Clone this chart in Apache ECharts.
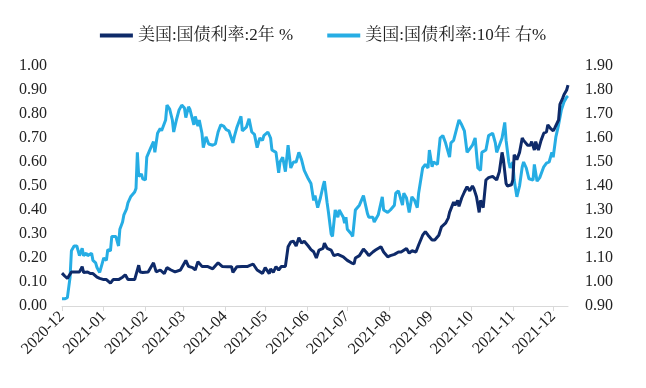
<!DOCTYPE html>
<html>
<head>
<meta charset="utf-8">
<script src="https://cdn.jsdelivr.net/npm/echarts@6/dist/echarts.min.js"></script>
<style>html,body{margin:0;padding:0;background:#fff;}#c{width:646px;height:388px;}</style>
</head>
<body>
<div id="c"></div>
<script>
const seriesNames = ['美国:国债利率:2年 %', '美国:国债利率:10年 右%'];
const xTickLabels = ['2020-12','2021-01','2021-02','2021-03','2021-04','2021-05','2021-06','2021-07','2021-08','2021-09','2021-10','2021-11','2021-12'];
const leftTicks = [0,0.1,0.2,0.3,0.4,0.5,0.6,0.7,0.8,0.9,1.0];
const rightTicks = [0.9,1.0,1.1,1.2,1.3,1.4,1.5,1.6,1.7,1.8,1.9];

const dates2y = ['2020-12-01','2020-12-03','2020-12-05','2020-12-08','2020-12-10','2020-12-12','2020-12-14','2020-12-16','2020-12-17','2020-12-20','2020-12-22','2020-12-24','2020-12-27','2020-12-29','2021-01-01','2021-01-03','2021-01-06','2021-01-08','2021-01-12','2021-01-15','2021-01-17','2021-01-19','2021-01-22','2021-01-24','2021-01-27','2021-01-28','2021-01-30','2021-02-03','2021-02-07','2021-02-09','2021-02-12','2021-02-15','2021-02-17','2021-02-20','2021-02-23','2021-02-27','2021-03-03','2021-03-05','2021-03-08','2021-03-10','2021-03-12','2021-03-15','2021-03-19','2021-03-23','2021-03-27','2021-03-30','2021-04-03','2021-04-06','2021-04-07','2021-04-10','2021-04-14','2021-04-18','2021-04-22','2021-04-25','2021-04-29','2021-05-01','2021-05-04','2021-05-05','2021-05-07','2021-05-09','2021-05-11','2021-05-13','2021-05-16','2021-05-18','2021-05-20','2021-05-22','2021-05-24','2021-05-26','2021-05-28','2021-05-30','2021-06-02','2021-06-04','2021-06-06','2021-06-08','2021-06-10','2021-06-13','2021-06-14','2021-06-16','2021-06-19','2021-06-21','2021-06-24','2021-06-26','2021-06-28','2021-07-01','2021-07-04','2021-07-06','2021-07-07','2021-07-10','2021-07-13','2021-07-15','2021-07-17','2021-07-20','2021-07-22','2021-07-26','2021-07-28','2021-07-31','2021-08-02','2021-08-05','2021-08-08','2021-08-10','2021-08-14','2021-08-16','2021-08-18','2021-08-21','2021-08-23','2021-08-26','2021-08-28','2021-08-30','2021-09-02','2021-09-04','2021-09-07','2021-09-09','2021-09-12','2021-09-14','2021-09-15','2021-09-18','2021-09-19','2021-09-21','2021-09-22','2021-09-24','2021-09-26','2021-09-28','2021-09-30','2021-10-02','2021-10-03','2021-10-05','2021-10-07','2021-10-08','2021-10-10','2021-10-12','2021-10-14','2021-10-17','2021-10-20','2021-10-22','2021-10-24','2021-10-25','2021-10-27','2021-10-28','2021-10-31','2021-11-01','2021-11-02','2021-11-04','2021-11-06','2021-11-08','2021-11-09','2021-11-12','2021-11-14','2021-11-15','2021-11-17','2021-11-18','2021-11-20','2021-11-22','2021-11-24','2021-11-26','2021-11-27','2021-11-29','2021-12-01','2021-12-02','2021-12-05','2021-12-06','2021-12-08','2021-12-09','2021-12-11','2021-12-12'];
const values2y = [0.137,0.125,0.115,0.142,0.142,0.142,0.142,0.164,0.14,0.142,0.135,0.135,0.12,0.115,0.11,0.11,0.095,0.11,0.11,0.12,0.13,0.11,0.11,0.11,0.17,0.142,0.14,0.142,0.18,0.142,0.15,0.135,0.16,0.15,0.142,0.15,0.19,0.165,0.16,0.15,0.185,0.165,0.165,0.155,0.18,0.165,0.164,0.164,0.14,0.164,0.165,0.165,0.175,0.15,0.136,0.16,0.135,0.155,0.14,0.164,0.15,0.165,0.165,0.247,0.267,0.27,0.25,0.285,0.262,0.27,0.25,0.235,0.226,0.20,0.233,0.24,0.262,0.24,0.233,0.21,0.215,0.21,0.205,0.19,0.18,0.175,0.20,0.21,0.237,0.225,0.21,0.225,0.233,0.247,0.225,0.205,0.21,0.215,0.225,0.225,0.24,0.22,0.23,0.225,0.254,0.295,0.31,0.295,0.275,0.275,0.295,0.33,0.345,0.366,0.39,0.433,0.42,0.44,0.415,0.45,0.475,0.497,0.48,0.50,0.49,0.455,0.39,0.44,0.41,0.525,0.535,0.54,0.525,0.56,0.64,0.61,0.51,0.50,0.505,0.525,0.63,0.61,0.64,0.70,0.69,0.67,0.67,0.685,0.65,0.685,0.65,0.69,0.72,0.725,0.755,0.74,0.73,0.74,0.775,0.84,0.865,0.88,0.90,0.92];

const dates10y = ['2020-12-01','2020-12-03','2020-12-05','2020-12-07','2020-12-08','2020-12-10','2020-12-12','2020-12-13','2020-12-14','2020-12-16','2020-12-17','2020-12-19','2020-12-20','2020-12-23','2020-12-24','2020-12-26','2020-12-27','2020-12-29','2020-12-31','2021-01-01','2021-01-03','2021-01-04','2021-01-06','2021-01-07','2021-01-10','2021-01-12','2021-01-13','2021-01-15','2021-01-16','2021-01-18','2021-01-19','2021-01-21','2021-01-24','2021-01-25','2021-01-26','2021-01-27','2021-01-29','2021-01-30','2021-02-01','2021-02-02','2021-02-05','2021-02-07','2021-02-08','2021-02-10','2021-02-12','2021-02-13','2021-02-16','2021-02-17','2021-02-19','2021-02-21','2021-02-22','2021-02-24','2021-02-26','2021-02-28','2021-03-02','2021-03-03','2021-03-05','2021-03-06','2021-03-09','2021-03-10','2021-03-12','2021-03-13','2021-03-15','2021-03-16','2021-03-18','2021-03-20','2021-03-23','2021-03-25','2021-03-27','2021-03-29','2021-03-31','2021-04-02','2021-04-04','2021-04-07','2021-04-08','2021-04-10','2021-04-13','2021-04-14','2021-04-17','2021-04-19','2021-04-21','2021-04-23','2021-04-25','2021-04-27','2021-04-29','2021-04-30','2021-05-03','2021-05-05','2021-05-06','2021-05-09','2021-05-11','2021-05-12','2021-05-14','2021-05-16','2021-05-18','2021-05-20','2021-05-22','2021-05-24','2021-05-26','2021-05-28','2021-05-30','2021-06-02','2021-06-04','2021-06-06','2021-06-07','2021-06-09','2021-06-11','2021-06-13','2021-06-14','2021-06-16','2021-06-17','2021-06-19','2021-06-20','2021-06-22','2021-06-24','2021-06-25','2021-06-28','2021-06-29','2021-06-30','2021-07-01','2021-07-04','2021-07-05','2021-07-07','2021-07-10','2021-07-13','2021-07-14','2021-07-16','2021-07-17','2021-07-20','2021-07-21','2021-07-24','2021-07-27','2021-07-28','2021-07-31','2021-08-02','2021-08-05','2021-08-06','2021-08-08','2021-08-11','2021-08-12','2021-08-14','2021-08-16','2021-08-18','2021-08-20','2021-08-22','2021-08-23','2021-08-26','2021-08-28','2021-08-30','2021-08-31','2021-09-02','2021-09-03','2021-09-06','2021-09-08','2021-09-10','2021-09-12','2021-09-15','2021-09-16','2021-09-18','2021-09-21','2021-09-22','2021-09-24','2021-09-26','2021-09-28','2021-09-30','2021-10-02','2021-10-04','2021-10-06','2021-10-08','2021-10-09','2021-10-12','2021-10-14','2021-10-17','2021-10-19','2021-10-20','2021-10-22','2021-10-24','2021-10-26','2021-10-27','2021-10-29','2021-10-30','2021-11-01','2021-11-02','2021-11-04','2021-11-06','2021-11-08','2021-11-09','2021-11-11','2021-11-13','2021-11-16','2021-11-17','2021-11-19','2021-11-21','2021-11-24','2021-11-26','2021-11-28','2021-11-30','2021-12-01','2021-12-03','2021-12-05','2021-12-07','2021-12-09','2021-12-11','2021-12-12'];
const values10y = [0.93,0.93,0.935,1.02,1.13,1.15,1.15,1.15,1.11,1.14,1.11,1.12,1.11,1.12,1.09,1.08,1.06,1.04,1.08,1.10,1.09,1.135,1.13,1.19,1.19,1.15,1.22,1.25,1.28,1.305,1.33,1.355,1.375,1.39,1.54,1.44,1.45,1.43,1.425,1.52,1.56,1.585,1.54,1.62,1.64,1.63,1.675,1.737,1.72,1.675,1.625,1.675,1.717,1.737,1.725,1.685,1.73,1.72,1.655,1.69,1.65,1.675,1.62,1.56,1.605,1.575,1.57,1.575,1.625,1.655,1.65,1.635,1.63,1.58,1.605,1.645,1.69,1.63,1.645,1.68,1.625,1.615,1.56,1.60,1.59,1.61,1.625,1.60,1.55,1.54,1.455,1.50,1.52,1.46,1.57,1.475,1.50,1.50,1.54,1.51,1.465,1.43,1.41,1.34,1.36,1.31,1.35,1.40,1.42,1.33,1.29,1.20,1.19,1.30,1.27,1.30,1.27,1.245,1.27,1.22,1.20,1.19,1.30,1.32,1.36,1.355,1.285,1.27,1.27,1.25,1.28,1.355,1.30,1.29,1.30,1.32,1.37,1.38,1.32,1.37,1.35,1.29,1.355,1.34,1.31,1.37,1.475,1.49,1.475,1.55,1.48,1.50,1.49,1.60,1.61,1.58,1.52,1.58,1.59,1.655,1.675,1.655,1.63,1.54,1.555,1.57,1.60,1.475,1.465,1.54,1.55,1.61,1.62,1.58,1.54,1.57,1.60,1.665,1.59,1.50,1.475,1.50,1.425,1.355,1.40,1.48,1.50,1.475,1.43,1.425,1.49,1.42,1.435,1.48,1.495,1.50,1.54,1.52,1.605,1.655,1.715,1.75,1.77,1.775];

const FONT = '"Liberation Serif","Times New Roman","Noto Serif CJK SC","Noto Sans CJK SC",serif';
const NAVY = '#0e2a69';
const SKY = '#26ade4';

const chart = echarts.init(document.getElementById('c'), null, {renderer: 'canvas'});
const toPairs = (d, v) => d.map((x, i) => [x, v[i]]);

chart.setOption({
  animation: false,
  backgroundColor: '#ffffff',
  textStyle: {fontFamily: FONT},
  legend: {
    top: 22,
    left: 'center',
    itemWidth: 33,
    itemHeight: 4,
    itemGap: 34,
    icon: 'rect',
    textStyle: {fontFamily: FONT, fontSize: 17, color: '#222'},
    data: seriesNames
  },
  grid: {left: 62, right: 78, top: 66, bottom: 82},
  xAxis: {
    type: 'time',
    min: xTickLabels[0] + '-01',
    max: dates2y[dates2y.length - 1],
    splitNumber: 12,
    minInterval: 28 * 86400000,
    axisLine: {lineStyle: {color: '#d9d9d9', width: 1}},
    axisTick: {show: true, length: 5, lineStyle: {color: '#d9d9d9'}},
    splitLine: {show: false},
    axisLabel: {
      rotate: 45,
      fontFamily: FONT,
      fontSize: 16,
      color: '#222',
      margin: 8,
      formatter: '{yyyy}-{MM}',
      hideOverlap: false
    }
  },
  yAxis: [
    {
      type: 'value', min: leftTicks[0], max: leftTicks[leftTicks.length - 1], interval: 0.1,
      axisLine: {show: false}, axisTick: {show: false}, splitLine: {show: false},
      axisLabel: {fontFamily: FONT, fontSize: 16, color: '#222', margin: 15, formatter: v => v.toFixed(2)}
    },
    {
      type: 'value', min: rightTicks[0], max: rightTicks[rightTicks.length - 1], interval: 0.1,
      axisLine: {show: false}, axisTick: {show: false}, splitLine: {show: false},
      axisLabel: {fontFamily: FONT, fontSize: 16, color: '#222', margin: 17, formatter: v => v.toFixed(2)}
    }
  ],
  series: [
    {
      name: seriesNames[0], type: 'line', yAxisIndex: 0, showSymbol: false, symbol: 'none',
      lineStyle: {color: NAVY, width: 3}, itemStyle: {color: NAVY},
      data: toPairs(dates2y, values2y), z: 3
    },
    {
      name: seriesNames[1], type: 'line', yAxisIndex: 1, showSymbol: false, symbol: 'none',
      lineStyle: {color: SKY, width: 3}, itemStyle: {color: SKY},
      data: toPairs(dates10y, values10y), z: 2
    }
  ]
});
</script>
</body>
</html>
